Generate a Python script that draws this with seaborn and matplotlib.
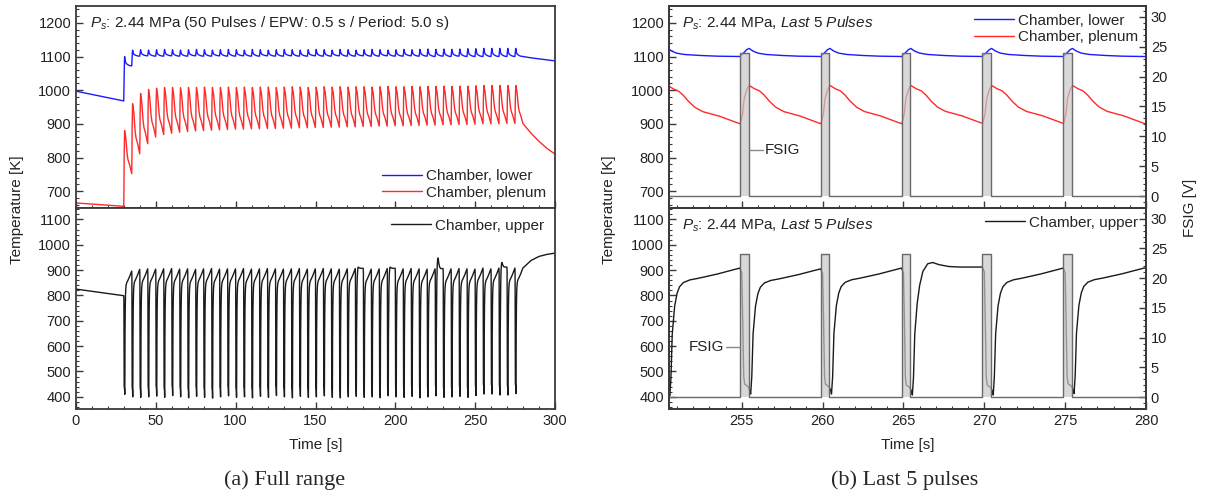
import numpy as np
import pandas as pd
import matplotlib
matplotlib.use('Agg')
import matplotlib.pyplot as plt
from matplotlib.ticker import MultipleLocator
import seaborn as sns

# ---- data ----
pulse_t = [30, 35, 40, 45, 50, 55, 60, 65, 70, 75,
           80, 85, 90, 95, 100, 105, 110, 115, 120, 125,
           130, 135, 140, 145, 150, 155, 160, 165, 170, 175,
           180, 185, 190, 195, 200, 205, 210, 215, 220, 225,
           230, 235, 240, 245, 250, 255, 260, 265, 270, 275]

# Chamber, lower (blue): one cycle shape from the 'last 5 pulses' panel
lower_off = [-0.1, 0.1, 0.3, 0.45, 0.7, 1.0, 1.5, 2.5, 3.5, 4.9]
lower_shape = [1100, 1110, 1120, 1124, 1116, 1110, 1106, 1103, 1101, 1100]
lower_pre_t = [0.0, 29.9]
lower_pre_v = [997, 968]
lower_peak = [1100, 1119, 1120, 1119, 1120, 1121, 1120, 1119, 1120, 1121,
              1120, 1119, 1120, 1121, 1120, 1119, 1121, 1120, 1119, 1120,
              1121, 1120, 1119, 1120, 1121, 1120, 1119, 1121, 1120, 1119,
              1120, 1121, 1120, 1119, 1120, 1121, 1120, 1121, 1122, 1121,
              1122, 1121, 1122, 1123, 1123, 1124, 1124, 1124, 1124, 1124]
lower_base = [1072, 1101, 1102, 1101, 1101, 1102, 1101, 1101, 1102, 1101,
              1101, 1102, 1101, 1101, 1102, 1101, 1101, 1102, 1101, 1101,
              1102, 1101, 1101, 1102, 1101, 1101, 1102, 1101, 1101, 1102,
              1101, 1101, 1102, 1101, 1101, 1102, 1101, 1101, 1100, 1101,
              1100, 1101, 1100, 1100, 1100, 1100, 1100, 1100, 1100, 1100]
lower_tail_t = [285, 290, 295, 300]
lower_tail_v = [1096, 1093, 1090, 1087]

# Chamber, plenum (red)
plenum_off = [-0.1, 0.05, 0.15, 0.3, 0.45, 0.8, 1.1, 1.4, 1.7, 2.1, 2.6, 3.6, 4.4, 4.9]
plenum_shape = [900, 930, 975, 1000, 1014, 1004, 998, 985, 968, 950, 937, 924, 910, 901]
plenum_pre_t = [0.0, 29.9]
plenum_pre_v = [665, 655]
plenum_peak = [880, 960, 990, 1002, 1006, 1008, 1008, 1007, 1008, 1008,
               1009, 1008, 1008, 1009, 1008, 1009, 1008, 1009, 1009, 1008,
               1009, 1010, 1009, 1008, 1009, 1010, 1009, 1010, 1009, 1010,
               1010, 1009, 1010, 1011, 1010, 1010, 1011, 1010, 1011, 1011,
               1012, 1011, 1012, 1012, 1013, 1014, 1014, 1014, 1014, 1014]
plenum_trough = [752, 811, 841, 861, 868, 872, 875, 877, 879, 880,
                 881, 882, 883, 884, 884, 885, 885, 886, 886, 887,
                 887, 888, 888, 889, 889, 890, 890, 891, 891, 892,
                 892, 893, 893, 894, 894, 895, 895, 896, 896, 897,
                 897, 898, 898, 899, 900, 900, 900, 901, 901, 901]
plenum_tail_t = [285, 290, 295, 300]
plenum_tail_v = [872, 848, 827, 810]

# Chamber, upper (black)
upper_off = [-0.12, 0.0, 0.06, 0.12, 0.18, 0.4, 0.5, 0.55, 0.62, 0.7,
             0.85, 1.0, 1.15, 1.4, 1.8, 2.3, 3.5, 4.88]
upper_shape = [908, 890, 700, 480, 450, 440, 425, 411, 480, 650,
               760, 810, 835, 852, 862, 868, 885, 908]
upper_bump_off = [-0.12, 0.0, 0.06, 0.12, 0.18, 0.4, 0.5, 0.55, 0.62, 0.7,
                  0.85, 1.0, 1.2, 1.5, 1.8, 2.2, 2.8, 3.5, 4.88]
upper_bump_shape = [908, 890, 700, 480, 450, 440, 425, 411, 480, 650,
                    770, 840, 895, 925, 930, 922, 915, 913, 913]
upper_pre_t = [0.0, 29.88]
upper_pre_v = [825, 799]
upper_min = [410, 400, 398, 400, 403, 398, 405, 400, 396, 402,
             398, 395, 400, 404, 398, 400, 396, 402, 398, 405,
             400, 396, 402, 398, 400, 404, 398, 396, 400, 402,
             398, 400, 396, 404, 400, 398, 402, 396, 400, 404,
             398, 400, 402, 398, 405, 411, 411, 407, 407, 413]
upper_end = [896, 903, 905, 904, 905, 906, 904, 905, 903, 905,
             906, 904, 905, 905, 906, 904, 905, 906, 905, 904,
             905, 906, 904, 905, 906, 905, 904, 905, 906, 907,
             904, 905, 906, 907, 905, 906, 905, 904, 905, 906,
             905, 906, 905, 904, 908, 905, 908, 912, 908, 908]
bump_pulses = [175, 195, 225, 265]
bump_peak = [912, 912, 948, 930]
upper_tail_t = [285, 290, 295, 300]
upper_tail_v = [938, 954, 962, 967]

# FSIG pulse
fsig_high = 24.0
fsig_on = -0.12
fsig_off = 0.42


def cycle(p, off, shape, keys, acts):
    t, v = [], []
    for j in range(len(keys) - 1):
        a, b = keys[j], keys[j + 1]
        va, vb = shape[a], shape[b]
        for i in range(a + 1, b + 1):
            f = (shape[i] - va) / (vb - va)
            t.append(p + off[i])
            v.append(acts[j] + f * (acts[j + 1] - acts[j]))
    return t, v


def build(pre_t, pre_v, tail_t, tail_v, per_pulse):
    t, v = list(pre_t), list(pre_v)
    for k, p in enumerate(pulse_t):
        off, shape, keys, acts = per_pulse(k, p, v[-1])
        ct, cv = cycle(p, off, shape, keys, acts)
        t += ct
        v += cv
    return np.array(t + tail_t), np.array(v + tail_v)


def lower_pp(k, p, prev):
    return lower_off, lower_shape, [0, 3, len(lower_shape) - 1], [prev, lower_peak[k], lower_base[k]]


def plenum_pp(k, p, prev):
    return plenum_off, plenum_shape, [0, 4, len(plenum_shape) - 1], [prev, plenum_peak[k], plenum_trough[k]]


def upper_pp(k, p, prev):
    if p in bump_pulses:
        b = bump_peak[bump_pulses.index(p)]
        return (upper_bump_off, upper_bump_shape, [0, 7, 14, len(upper_bump_shape) - 1],
                [prev, upper_min[k], b, upper_end[k]])
    return upper_off, upper_shape, [0, 7, len(upper_shape) - 1], [prev, upper_min[k], upper_end[k]]


lo_t, lo_v = build(lower_pre_t, lower_pre_v, lower_tail_t, lower_tail_v, lower_pp)
pl_t, pl_v = build(plenum_pre_t, plenum_pre_v, plenum_tail_t, plenum_tail_v, plenum_pp)
up_t, up_v = build(upper_pre_t, upper_pre_v, upper_tail_t, upper_tail_v, upper_pp)

fs_t, fs_v = [0.0], [0.0]
for p in pulse_t:
    fs_t += [p + fsig_on, p + fsig_on, p + fsig_off, p + fsig_off]
    fs_v += [0.0, fsig_high, fsig_high, 0.0]
fs_t.append(300.0)
fs_v.append(0.0)
fs_t = np.array(fs_t)
fs_v = np.array(fs_v)

# ---- style ----
sns.set_style('ticks')
plt.rcParams['font.family'] = ['Liberation Sans', 'DejaVu Sans']
plt.rcParams['mathtext.fontset'] = 'custom'
plt.rcParams['mathtext.rm'] = 'Liberation Sans'
plt.rcParams['mathtext.it'] = 'Liberation Sans:italic'
plt.rcParams['axes.edgecolor'] = '#3a3a3a'
plt.rcParams['axes.linewidth'] = 1.3

W, H = 1205, 500
fig = plt.figure(figsize=(W / 100, H / 100), dpi=100)


def px_axes(x0, y0, x1, y1):
    return fig.add_axes([x0 / W, 1 - y1 / H, (x1 - x0) / W, (y1 - y0) / H])


BLUE = '#1a1aff'
RED = '#ff2a2a'
BLACK = '#1a1a1a'
TICK_FS = 10.5
LEG_FS = 11


def style_axis(ax, xmaj, xmin, ymaj, ymin, xlabels=True):
    ax.xaxis.set_major_locator(MultipleLocator(xmaj))
    ax.xaxis.set_minor_locator(MultipleLocator(xmin))
    ax.yaxis.set_major_locator(MultipleLocator(ymaj))
    ax.yaxis.set_minor_locator(MultipleLocator(ymin))
    ax.tick_params(which='both', direction='in', labelsize=TICK_FS, colors='#3a3a3a',
                   labelcolor='#222222', top=False, right=False)
    ax.tick_params(which='major', length=5, width=1.0)
    ax.tick_params(which='minor', length=2.5, width=0.8)
    if not xlabels:
        ax.tick_params(axis='x', labelbottom=False)
    ax.set_xlabel('')
    ax.set_ylabel('')
    for s in ax.spines.values():
        s.set_visible(True)


def line(ax, x, y, color, label=None, lw=1.0):
    sns.lineplot(x=x, y=y, ax=ax, color=color, lw=lw, estimator=None, sort=False,
                 label=label, legend=False)


leg_kw = dict(frameon=False, fontsize=LEG_FS, handlelength=2.6, handletextpad=0.3,
              labelspacing=0.15)

panels = {'left': (76, 555), 'right': (669, 1146)}
for side, (x0, x1) in panels.items():
    ax_t = px_axes(x0, 6, x1, 208)
    ax_b = px_axes(x0, 208, x1, 409)

    line(ax_t, lo_t, lo_v, BLUE, 'Chamber, lower')
    line(ax_t, pl_t, pl_v, RED, 'Chamber, plenum')
    line(ax_b, up_t, up_v, BLACK, 'Chamber, upper')

    if side == 'left':
        xlim, xmaj, xmin = (0, 300), 50, 10
    else:
        xlim, xmaj, xmin = (250.5, 280), 5, 1
    ax_t.set_xlim(*xlim)
    ax_b.set_xlim(*xlim)
    ax_t.set_ylim(650, 1250)
    ax_b.set_ylim(352, 1145)
    style_axis(ax_t, xmaj, xmin, 100, 20, xlabels=False)
    style_axis(ax_b, xmaj, xmin, 100, 20)
    ax_t.set_yticks([700, 800, 900, 1000, 1100, 1200])
    ax_b.set_yticks([400, 500, 600, 700, 800, 900, 1000, 1100])

    if side == 'left':
        ax_t.legend(loc='lower right', borderaxespad=0.15, **leg_kw)
        ax_b.legend(loc='upper right', borderaxespad=0.3, **leg_kw)
        ax_t.text(0.03, 0.915, r'$P_s$: 2.44 MPa (50 Pulses / EPW: 0.5 s / Period: 5.0 s)',
                  transform=ax_t.transAxes, fontsize=LEG_FS, va='center', ha='left',
                  color='#222222')
    else:
        ax_t.legend(loc='upper right', borderaxespad=0.1, **leg_kw)
        ax_b.legend(loc='upper right', borderaxespad=0.1, **leg_kw)
        for ax in (ax_t, ax_b):
            ax.text(0.027, 0.915, r'$P_s$: 2.44 MPa, $\mathit{Last\ 5\ Pulses}$',
                    transform=ax.transAxes, fontsize=LEG_FS, va='center', ha='left',
                    color='#222222')
        # FSIG on twin axes
        for ax, (lx0, lx1, ly, tx, ha) in ((ax_t, (255.42, 256.3, 7.7, 256.4, 'left')),
                                           (ax_b, (254.0, 254.88, 8.5, 253.9, 'right'))):
            tw = ax.twinx()
            tw.fill_between(fs_t, 0, fs_v, color='#c8c8c8', alpha=0.7, lw=0)
            line(tw, fs_t, fs_v, '#6a6a6a', lw=1.0)
            tw.set_ylim(-2, 31.8)
            tw.set_xlim(*xlim)
            tw.yaxis.set_major_locator(MultipleLocator(5))
            tw.yaxis.set_minor_locator(MultipleLocator(1))
            tw.tick_params(which='both', direction='in', labelsize=TICK_FS, colors='#3a3a3a',
                           labelcolor='#222222')
            tw.tick_params(which='major', length=5, width=1.0)
            tw.tick_params(which='minor', length=2.5, width=0.8)
            tw.set_ylabel('')
            tw.plot([lx0, lx1], [ly, ly], color='#8a8a8a', lw=1.0)
            tw.text(tx, ly, 'FSIG', fontsize=LEG_FS, va='center', ha=ha, color='#222222')

    cx = (x0 + x1) / 2 / W
    fig.text(cx, 1 - 445 / H, 'Time [s]', ha='center', va='center', fontsize=LEG_FS,
             color='#222222')

fig.text(17 / W, 1 - 210 / H, 'Temperature [K]', rotation=90, ha='center', va='center',
         fontsize=LEG_FS, color='#222222')
fig.text(609 / W, 1 - 210 / H, 'Temperature [K]', rotation=90, ha='center', va='center',
         fontsize=LEG_FS, color='#222222')
fig.text(1190 / W, 1 - 208 / H, 'FSIG [V]', rotation=90, ha='center', va='center',
         fontsize=LEG_FS, color='#222222')

fig.text(285 / W, 1 - 480 / H, '(a) Full range', ha='center', va='center', fontsize=16,
         family=['Liberation Serif', 'DejaVu Serif'])
fig.text(905 / W, 1 - 480 / H, '(b) Last 5 pulses', ha='center', va='center', fontsize=16,
         family=['Liberation Serif', 'DejaVu Serif'])

fig.savefig('out.png', dpi=100)
